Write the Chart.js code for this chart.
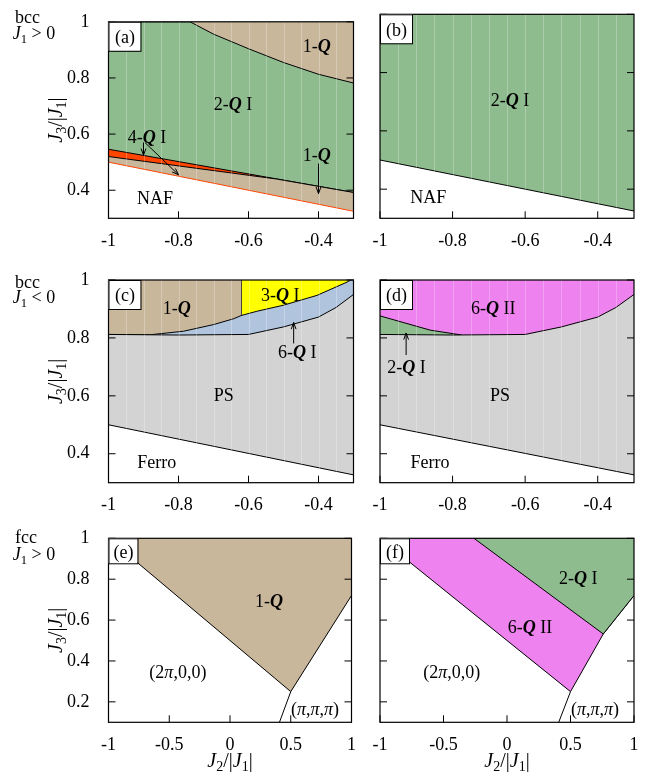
<!DOCTYPE html>
<html lang="en">
<head>
<meta charset="utf-8">
<title>bcc / fcc phase diagrams</title>
<script src="https://cdn.jsdelivr.net/npm/chart.js@4"></script>
<style>
  body { margin: 0; background: #fff; }
  #wrap { position: relative; width: 651px; height: 781px; }
  canvas { position: absolute; }
</style>
</head>
<body>
<div id="wrap">
  <canvas id="pa" width="360" height="255" style="left:0;top:0"></canvas>
  <canvas id="pb" width="291" height="255" style="left:360px;top:0"></canvas>
  <canvas id="pc" width="360" height="255" style="left:0;top:255px"></canvas>
  <canvas id="pd" width="291" height="255" style="left:360px;top:255px"></canvas>
  <canvas id="pe" width="360" height="271" style="left:0;top:510px"></canvas>
  <canvas id="pf" width="291" height="271" style="left:360px;top:510px"></canvas>
</div>
<script>
// ---- tick labels ----
const X_TICKS_BCC = [-1, -0.8, -0.6, -0.4];
const Y_TICKS_BCC = [0.4, 0.6, 0.8, 1];
const X_TICKS_FCC = [-1, -0.5, 0, 0.5, 1];
const Y_TICKS_FCC = [0.2, 0.4, 0.6, 0.8, 1];

// ---- bcc, J1 > 0 : phase boundaries (J2, J3) ----
const NAF_J2 = [-1, -0.3];
const NAF_J3 = [0.5, 0.325];
const A_1Q_J2 = [-1, -0.767, -0.7, -0.6, -0.5, -0.4, -0.3];
const A_1Q_J3 = [1, 1, 0.956, 0.904, 0.855, 0.813, 0.782];
const A_4Q_TOP_J2 = [-1, -0.3];
const A_4Q_TOP_J3 = [0.546, 0.392];
const A_4Q_BOT_J2 = [-1, -0.52, -0.3];
const A_4Q_BOT_J3 = [0.52, 0.44, 0.392];

// ---- bcc, J1 < 0 ----
const FERRO_J2 = [-1, -0.3];
const FERRO_J3 = [0.5, 0.327];
const PS_J2 = [-1, -0.8, -0.6, -0.5, -0.4, -0.35, -0.3];
const PS_J3 = [0.812, 0.81, 0.812, 0.838, 0.872, 0.905, 0.95];
const C_1Q_J2 = [-1, -0.88, -0.786, -0.7, -0.643, -0.619, -0.619];
const C_1Q_J3 = [0.812, 0.811, 0.823, 0.846, 0.866, 0.878, 1];
const C_3Q_J2 = [-0.619, -0.576, -0.5, -0.404, -0.318, -0.308];
const C_3Q_J3 = [0.878, 0.892, 0.913, 0.947, 0.993, 1];
const D_6Q_J2 = [-1, -0.862, -0.775];
const D_6Q_J3 = [0.876, 0.827, 0.81];

// ---- fcc, J1 > 0 ----
const E_1Q_J2 = [-1, 0.5, 1];
const E_1Q_J3 = [1, 0.25, 0.72];
const PPP_J2 = [0.5, 0.407];
const PPP_J3 = [0.25, 0.1];
const F_6Q_J2 = [-1, 0.5, 0.758, 1];
const F_6Q_J3 = [1, 0.25, 0.532, 0.72];
const F_2Q_J2 = [-0.26, 0.758, 1];
const F_2Q_J3 = [1, 0.532, 0.72];

const TAN = '#c9b79c', GREEN = '#8fbc8f', RED = '#ff4500', YELLOW = '#ffff00',
      BLUE = '#b0c4de', GREY = '#d3d3d3', VIOLET = '#ee82ee';
const FONT = '"Liberation Serif", "DejaVu Serif", serif';
const FS = 18;

const Q = (a, b) => [[a, 'n'], ['Q', 'bi'], [b, 'n']];
const T = (s) => [[s, 'n']];
const PI2 = [['(2', 'n'], ['\u03c0', 'i'], [',0,0)', 'n']];
const PIPIPI = [['(', 'n'], ['\u03c0', 'i'], [',', 'n'], ['\u03c0', 'i'], [',', 'n'], ['\u03c0', 'i'], [')', 'n']];
const YTITLE = [['J', 'i'], ['3', 'sub'], ['/|', 'n'], ['J', 'i'], ['1', 'sub'], ['|', 'n']];
const XTITLE = [['J', 'i'], ['2', 'sub'], ['/|', 'n'], ['J', 'i'], ['1', 'sub'], ['|', 'n']];

function fontOf(st, size) {
  const s = st === 'i' ? 'italic ' : st === 'bi' ? 'italic bold ' : '';
  return s + size + 'px ' + FONT;
}

// y is the visual middle of cap-height text
function drawRich(ctx, runs, x, y, size, align) {
  let w = 0;
  const parts = runs.map(([t, st]) => {
    const sz = st === 'sub' ? size * 0.7 : size;
    ctx.font = fontOf(st === 'sub' ? 'n' : st, sz);
    const m = ctx.measureText(t).width;
    w += m;
    return { t, st, sz, m };
  });
  let cx = align === 'left' ? x : x - w / 2;
  const base = y + size * 0.33;
  ctx.textAlign = 'left';
  ctx.textBaseline = 'alphabetic';
  ctx.fillStyle = '#000';
  for (const p of parts) {
    ctx.font = fontOf(p.st === 'sub' ? 'n' : p.st, p.sz);
    ctx.fillText(p.t, cx, p.st === 'sub' ? base + size * 0.22 : base);
    cx += p.m;
  }
}

function decor(cfg) {
  return {
    id: 'decor',
    beforeDatasetsDraw(chart) {
      if (!cfg.base) return;
      const a = chart.chartArea, ctx = chart.ctx;
      ctx.save();
      ctx.fillStyle = cfg.base;
      ctx.fillRect(a.left, a.top, a.right - a.left, a.bottom - a.top);
      ctx.restore();
    },
    afterDatasetsDraw(chart) {
      const a = chart.chartArea, ctx = chart.ctx;
      const xs = chart.scales.x, ys = chart.scales.y;
      ctx.save();
      // faint rendering seams of the original fills
      if (cfg.seams) {
        ctx.strokeStyle = 'rgba(255,255,255,0.25)';
        ctx.lineWidth = 1;
        for (let v = xs.min + 0.05; v < xs.max - 0.01; v += 0.05) {
          const px = Math.round(xs.getPixelForValue(v)) + 0.5;
          ctx.beginPath(); ctx.moveTo(px, a.top); ctx.lineTo(px, a.bottom); ctx.stroke();
        }
      }
      // frame and inward ticks
      ctx.strokeStyle = '#000';
      ctx.lineWidth = 1.2;
      ctx.strokeRect(a.left, a.top, a.right - a.left, a.bottom - a.top);
      ctx.lineWidth = 1;
      for (const v of cfg.xt) {
        const px = xs.getPixelForValue(v);
        ctx.beginPath(); ctx.moveTo(px, a.bottom); ctx.lineTo(px, a.bottom - 7); ctx.stroke();
      }
      for (const v of cfg.yt) {
        const py = ys.getPixelForValue(v);
        ctx.beginPath(); ctx.moveTo(a.left, py); ctx.lineTo(a.left + 7, py); ctx.stroke();
        ctx.beginPath(); ctx.moveTo(a.right, py); ctx.lineTo(a.right - 7, py); ctx.stroke();
      }
      ctx.restore();
    },
    afterDraw(chart) {
      const a = chart.chartArea, ctx = chart.ctx;
      const xs = chart.scales.x, ys = chart.scales.y;
      ctx.save();
      for (const L of cfg.labels) {
        drawRich(ctx, L.t, xs.getPixelForValue(L.x), ys.getPixelForValue(L.y), FS, 'center');
      }
      ctx.strokeStyle = '#000';
      ctx.lineWidth = 1;
      for (const A of (cfg.arrows || [])) {
        const x1 = xs.getPixelForValue(A.x1), y1 = ys.getPixelForValue(A.y1);
        const x2 = xs.getPixelForValue(A.x2), y2 = ys.getPixelForValue(A.y2);
        const ang = Math.atan2(y2 - y1, x2 - x1), h = 7, sp = 0.35;
        ctx.beginPath();
        ctx.moveTo(x1, y1); ctx.lineTo(x2, y2);
        ctx.moveTo(x2 - h * Math.cos(ang - sp), y2 - h * Math.sin(ang - sp));
        ctx.lineTo(x2, y2);
        ctx.lineTo(x2 - h * Math.cos(ang + sp), y2 - h * Math.sin(ang + sp));
        ctx.stroke();
      }
      // panel tag box
      const [bw, bh] = cfg.box;
      ctx.fillStyle = '#fff';
      ctx.fillRect(a.left, a.top, bw, bh);
      ctx.strokeRect(a.left + 0.5, a.top + 0.5, bw, bh);
      drawRich(ctx, T(cfg.tag), a.left + bw / 2 + 0.5, a.top + bh / 2 + 1, FS, 'center');
      if (cfg.ytitle) {
        ctx.save();
        ctx.translate(55, (a.top + a.bottom) / 2);
        ctx.rotate(-Math.PI / 2);
        drawRich(ctx, YTITLE, 0, 0, 20, 'center');
        ctx.restore();
      }
      if (cfg.xtitle) drawRich(ctx, XTITLE, (a.left + a.right) / 2, cfg.xtitle, 20, 'center');
      if (cfg.header) {
        drawRich(ctx, T(cfg.header[0]), 15, cfg.header[2], FS, 'left');
        drawRich(ctx, [['J', 'i'], ['1', 'sub'], [cfg.header[1], 'n']], 12.7, cfg.header[3], FS, 'left');
      }
      ctx.restore();
    }
  };
}

function layer(xs, ys, fill, color, line) {
  return { xs, ys, fill, color, line };
}

function makePanel(id, cfg) {
  const n = cfg.layers.length;
  const datasets = cfg.layers.map((L, i) => ({
    data: L.xs.map((x, k) => ({ x, y: L.ys[k] })),
    showLine: true,
    fill: L.fill || false,
    backgroundColor: L.color || 'rgba(0,0,0,0)',
    borderColor: L.line || 'rgba(0,0,0,0)',
    borderWidth: L.line ? 1 : 0,
    pointRadius: 0,
    pointHoverRadius: 0,
    tension: 0,
    order: n - i
  }));
  const tickFont = { family: FONT, size: FS };
  new Chart(document.getElementById(id), {
    type: 'scatter',
    data: { datasets },
    options: {
      responsive: false,
      animation: false,
      events: [],
      layout: { padding: cfg.pad },
      plugins: { legend: { display: false }, tooltip: { enabled: false } },
      scales: {
        x: {
          type: 'linear', min: cfg.xr[0], max: cfg.xr[1],
          grid: { display: false }, border: { display: false },
          afterBuildTicks: s => { s.ticks = cfg.xt.map(v => ({ value: v })); },
          afterFit: s => { s.height = cfg.xH; },
          ticks: { autoSkip: false, maxRotation: 0, padding: 4, color: '#000', font: tickFont, callback: v => String(v) }
        },
        y: {
          type: 'linear', min: cfg.yr[0], max: cfg.yr[1],
          grid: { display: false }, border: { display: false },
          afterBuildTicks: s => { s.ticks = cfg.yt.map(v => ({ value: v })); },
          afterFit: s => { s.width = cfg.yW; },
          ticks: { display: cfg.ylabels, autoSkip: false, padding: 11, color: '#000', font: tickFont, callback: v => String(v) }
        }
      }
    },
    plugins: [decor(cfg)]
  });
}

const LEFT = { yW: 108.5, ylabels: true, ytitle: true };
const RIGHT = { yW: 20, ylabels: false, ytitle: false };
const ROW1 = { xr: [-1, -0.3], yr: [0.3, 1], xt: X_TICKS_BCC, yt: Y_TICKS_BCC, xH: 36.7, seams: true, box: [32, 29] };
const ROW2 = { xr: [-1, -0.3], yr: [0.3, 1], xt: X_TICKS_BCC, yt: Y_TICKS_BCC, xH: 27.3, seams: true, box: [32, 29] };
const ROW3 = { xr: [-1, 1], yr: [0.1, 1], xt: X_TICKS_FCC, yt: Y_TICKS_FCC, xH: 58.7, seams: false, box: [29, 25], xtitle: 250 };

makePanel('pa', Object.assign({}, ROW1, LEFT, {
  pad: { top: 14.3, right: 6.5, left: 0, bottom: 0 }, tag: '(a)', base: TAN,
  header: ['bcc', ' > 0', 17.3, 33],
  layers: [
    layer(A_1Q_J2, A_1Q_J3, 'start', GREEN, '#000'),
    layer(A_4Q_TOP_J2, A_4Q_TOP_J3, 'start', RED, '#000'),
    layer(A_4Q_BOT_J2, A_4Q_BOT_J3, 'start', TAN, '#000'),
    layer(NAF_J2, NAF_J3, 'start', '#fff', RED)
  ],
  labels: [
    { x: -0.405, y: 0.912, t: Q('1-', '') },
    { x: -0.644, y: 0.706, t: Q('2-', ' I') },
    { x: -0.89, y: 0.588, t: Q('4-', ' I') },
    { x: -0.405, y: 0.524, t: Q('1-', '') },
    { x: -0.867, y: 0.373, t: T('NAF') }
  ],
  arrows: [
    { x1: -0.9, y1: 0.57, x2: -0.9, y2: 0.525 },
    { x1: -0.896, y1: 0.57, x2: -0.8, y2: 0.455 },
    { x1: -0.4, y1: 0.495, x2: -0.4, y2: 0.388 }
  ]
}));

makePanel('pb', Object.assign({}, ROW1, RIGHT, {
  pad: { top: 14.3, right: 17, left: 0, bottom: 0 }, tag: '(b)', base: GREEN,
  layers: [
    layer(NAF_J2, NAF_J3, 'start', '#fff', '#000')
  ],
  labels: [
    { x: -0.642, y: 0.706, t: Q('2-', ' I') },
    { x: -0.867, y: 0.374, t: T('NAF') }
  ]
}));

makePanel('pc', Object.assign({}, ROW2, LEFT, {
  pad: { top: 25, right: 6.5, left: 0, bottom: 0 }, tag: '(c)', base: BLUE,
  header: ['bcc', ' < 0', 27.3, 42.3],
  layers: [
    layer(C_1Q_J2, C_1Q_J3, 'end', TAN, '#000'),
    layer(C_3Q_J2, C_3Q_J3, 'end', YELLOW, '#000'),
    layer(PS_J2, PS_J3, 'start', GREY, '#000'),
    layer(FERRO_J2, FERRO_J3, 'start', '#fff', '#000')
  ],
  labels: [
    { x: -0.805, y: 0.902, t: Q('1-', '') },
    { x: -0.509, y: 0.948, t: Q('3-', ' I') },
    { x: -0.461, y: 0.752, t: Q('6-', ' I') },
    { x: -0.671, y: 0.603, t: T('PS') },
    { x: -0.862, y: 0.373, t: T('Ferro') }
  ],
  arrows: [
    { x1: -0.471, y1: 0.781, x2: -0.471, y2: 0.853 }
  ]
}));

makePanel('pd', Object.assign({}, ROW2, RIGHT, {
  pad: { top: 25, right: 17, left: 0, bottom: 0 }, tag: '(d)', base: VIOLET,
  layers: [
    layer(D_6Q_J2, D_6Q_J3, 'start', GREEN, '#000'),
    layer(PS_J2, PS_J3, 'start', GREY, '#000'),
    layer(FERRO_J2, FERRO_J3, 'start', '#fff', '#000')
  ],
  labels: [
    { x: -0.688, y: 0.902, t: Q('6-', ' II') },
    { x: -0.927, y: 0.70, t: Q('2-', ' I') },
    { x: -0.669, y: 0.603, t: T('PS') },
    { x: -0.862, y: 0.373, t: T('Ferro') }
  ],
  arrows: [
    { x1: -0.928, y1: 0.741, x2: -0.928, y2: 0.817 }
  ]
}));

makePanel('pe', Object.assign({}, ROW3, LEFT, {
  pad: { top: 28.3, right: 6.5, left: 0, bottom: 0 }, tag: '(e)', base: null,
  header: ['fcc', ' > 0', 27.3, 44],
  layers: [
    layer(E_1Q_J2, E_1Q_J3, 'end', TAN, '#000'),
    layer(PPP_J2, PPP_J3, false, null, '#000')
  ],
  labels: [
    { x: 0.32, y: 0.693, t: Q('1-', '') },
    { x: -0.429, y: 0.345, t: PI2 },
    { x: 0.70, y: 0.163, t: PIPIPI }
  ]
}));

makePanel('pf', Object.assign({}, ROW3, RIGHT, {
  pad: { top: 28.3, right: 17, left: 0, bottom: 0 }, tag: '(f)', base: null,
  layers: [
    layer(F_6Q_J2, F_6Q_J3, 'end', VIOLET, '#000'),
    layer(F_2Q_J2, F_2Q_J3, 'end', GREEN, '#000'),
    layer(PPP_J2, PPP_J3, false, null, '#000')
  ],
  labels: [
    { x: 0.561, y: 0.807, t: Q('2-', ' I') },
    { x: 0.181, y: 0.566, t: Q('6-', ' II') },
    { x: -0.435, y: 0.345, t: PI2 },
    { x: 0.693, y: 0.163, t: PIPIPI }
  ]
}));
</script>
</body>
</html>
